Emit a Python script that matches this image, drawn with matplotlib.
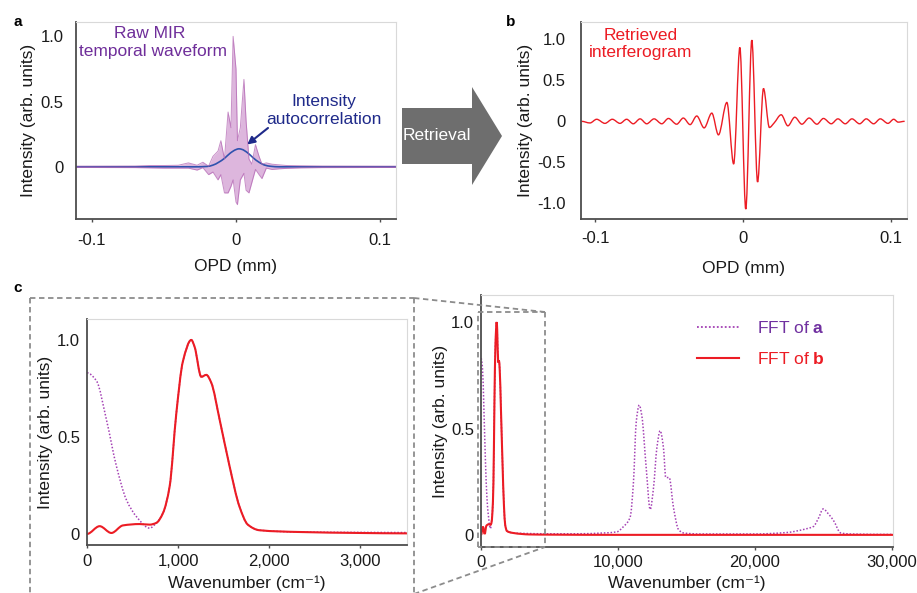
import numpy as np
import matplotlib
matplotlib.use('Agg')
import matplotlib.pyplot as plt
from matplotlib.path import Path
from matplotlib.patches import PathPatch, Polygon
from matplotlib.lines import Line2D

plt.rcParams['font.family'] = ['Liberation Sans', 'DejaVu Sans']
plt.rcParams['mathtext.fontset'] = 'custom'
plt.rcParams['mathtext.rm'] = 'Liberation Sans'
plt.rcParams['mathtext.it'] = 'Liberation Sans:italic'
plt.rcParams['mathtext.bf'] = 'Liberation Sans:bold'

# ---------------- data ----------------
# Panel a: raw MIR temporal waveform (envelope of the unresolved fast carrier)
raw_x = [-0.111, -0.070, -0.060, -0.050, -0.040, -0.033, -0.027, -0.023, -0.019, -0.016,
         -0.0125, -0.0105, -0.008, -0.0055, -0.0035, -0.002, 0.0, 0.001, 0.003, 0.0055,
         0.007, 0.009, 0.011, 0.0135, 0.016, 0.018, 0.021, 0.025, 0.030, 0.035, 0.045, 0.060, 0.111]
raw_upper = [0.005, 0.006, 0.010, 0.010, 0.012, 0.030, 0.012, 0.035, 0.005, 0.08,
             0.12, 0.20, 0.06, 0.42, 0.30, 1.00, 0.75, 0.20, 0.30, 0.67,
             0.35, 0.06, 0.02, 0.17, 0.08, 0.02, 0.03, 0.02, 0.015, 0.010, 0.008, 0.006, 0.005]
raw_lower = [-0.005, -0.006, -0.008, -0.010, -0.010, -0.010, -0.025, -0.006, -0.06, -0.04,
             -0.10, -0.06, -0.20, -0.20, -0.15, -0.10, -0.27, -0.29, -0.10, -0.05,
             -0.18, -0.20, -0.12, -0.02, -0.06, -0.09, -0.01, -0.02, -0.015, -0.012, -0.008, -0.006, -0.005]

# Panel a: intensity autocorrelation
ac_x = [-0.111, -0.028, -0.020, -0.016, -0.012, -0.008, -0.004, 0.0, 0.002, 0.004,
        0.008, 0.012, 0.016, 0.020, 0.024, 0.030, 0.111]
ac_y = [0.0, 0.0, 0.003, 0.013, 0.035, 0.065, 0.105, 0.132, 0.138, 0.134,
        0.108, 0.068, 0.035, 0.013, 0.004, 0.0, 0.0]

# Panel b: retrieved interferogram (extrema)
b_x = [-0.1095, -0.1037, -0.0992, -0.0936, -0.0886, -0.0834, -0.0789, -0.0744, -0.0698, -0.0653,
       -0.0603, -0.0551, -0.0506, -0.0450, -0.0405, -0.0359, -0.0314, -0.0264, -0.0212, -0.0167,
       -0.0110, -0.0064, -0.0022, 0.0018, 0.0059, 0.0098, 0.0138, 0.0178, 0.0210, 0.0258,
       0.0303, 0.0350, 0.0398, 0.0447, 0.0500, 0.0544, 0.0597, 0.0642, 0.0692, 0.0737,
       0.0789, 0.0834, 0.0884, 0.0929, 0.0981, 0.1020, 0.1050, 0.1094]
b_y = [0.0, -0.02, 0.025, -0.025, 0.025, -0.025, 0.025, -0.03, 0.03, -0.03,
       0.03, -0.03, 0.035, -0.035, 0.04, -0.04, 0.065, -0.08, 0.10, -0.165,
       0.23, -0.52, 0.90, -1.07, 0.99, -0.74, 0.40, -0.075, -0.02, 0.08,
       -0.055, 0.05, -0.035, 0.04, -0.035, 0.035, -0.03, 0.03, -0.03, 0.03,
       -0.03, 0.03, -0.03, 0.03, -0.025, 0.025, -0.01, 0.0]

# Panel c: spectra
wn_b = [0, 139, 268, 395, 578, 688, 762, 835, 908, 981, 1054, 1146, 1182, 1256, 1311, 1365,
        1457, 1566, 1676, 1767, 1896, 2335, 3000, 3506, 5000, 10000, 20000, 30100]
fft_b = [0.0, 0.04, 0.005, 0.044, 0.051, 0.048, 0.057, 0.108, 0.245, 0.62, 0.89, 1.0, 0.965, 0.81, 0.82, 0.78,
         0.59, 0.35, 0.14, 0.048, 0.019, 0.01, 0.005, 0.003, 0.002, 0.001, 0.001, 0.001]

wn_a = [0, 103, 213, 323, 432, 542, 688, 762, 835, 908, 981, 1054, 1146, 1182, 1256, 1311, 1365,
        1457, 1566, 1676, 1767, 1896, 2335, 3000, 5000, 7000, 9000, 9927, 10410, 10900,
        11140, 11340, 11560, 11750, 12070, 12360, 12600, 12850, 13090, 13330, 13500, 13750,
        14060, 14430, 14790, 16000, 20000, 22340, 23800, 24280, 24640, 25010, 25370, 25740,
        26280, 27000, 30100]
fft_a = [0.83, 0.79, 0.59, 0.35, 0.177, 0.09, 0.03, 0.057, 0.108, 0.245, 0.62, 0.89, 1.0, 0.965, 0.81, 0.82, 0.78,
         0.59, 0.35, 0.14, 0.048, 0.019, 0.01, 0.008, 0.006, 0.006, 0.01, 0.015, 0.04, 0.085,
         0.25, 0.53, 0.61, 0.56, 0.315, 0.12, 0.22, 0.41, 0.49, 0.41, 0.27, 0.27,
         0.13, 0.026, 0.01, 0.005, 0.005, 0.012, 0.03, 0.04, 0.077, 0.123, 0.10, 0.07,
         0.01, 0.005, 0.003]

opd_ticks = [-0.1, 0, 0.1]
opd_ticklabels = ['-0.1', '0', '0.1']
wn_ticks_left = [0, 1000, 2000, 3000]
wn_ticklabels_left = ['0', '1,000', '2,000', '3,000']
wn_ticks_right = [0, 10000, 20000, 30000]
wn_ticklabels_right = ['0', '10,000', '20,000', '30,000']

# ---------------- helpers ----------------
W, H = 917, 593


def smooth_path(x, y):
    x = np.asarray(x, float)
    y = np.asarray(y, float)
    h = np.diff(x)
    d = np.diff(y) / h
    m = np.zeros_like(y)
    for i in range(1, len(x) - 1):
        if d[i - 1] * d[i] > 0:
            w1 = 2 * h[i] + h[i - 1]
            w2 = h[i] + 2 * h[i - 1]
            m[i] = (w1 + w2) / (w1 / d[i - 1] + w2 / d[i])
    verts = [(x[0], y[0])]
    codes = [Path.MOVETO]
    for i in range(len(x) - 1):
        verts += [(x[i] + h[i] / 3, y[i] + m[i] * h[i] / 3),
                  (x[i + 1] - h[i] / 3, y[i + 1] - m[i + 1] * h[i] / 3),
                  (x[i + 1], y[i + 1])]
        codes += [Path.CURVE4] * 3
    return Path(verts, codes)


def add_curve(ax, x, y, **kw):
    p = PathPatch(smooth_path(x, y), fill=False, **kw)
    ax.add_patch(p)
    return p


TICK_FS = 12


def style_axes(ax, xpad, ypad):
    for s in ['left', 'bottom']:
        ax.spines[s].set_color('#4d4d4d')
        ax.spines[s].set_linewidth(1.3)
    for s in ['top', 'right']:
        ax.spines[s].set_color('#d9d9d9')
        ax.spines[s].set_linewidth(0.8)
    ax.tick_params(axis='x', length=2.5, width=1, color='#4d4d4d', pad=xpad,
                   labelsize=TICK_FS, labelcolor='#1a1a1a')
    ax.tick_params(axis='y', length=0, pad=ypad, labelsize=TICK_FS, labelcolor='#1a1a1a')


def fpt(px, py):
    return px / W, 1 - py / H


def axrect(l, t, r, b):
    return [l / W, 1 - b / H, (r - l) / W, (b - t) / H]


fig = plt.figure(figsize=(W / 100, H / 100), dpi=100)

LABEL_FS = 12.5
purple_txt = '#6f2e9a'
red = '#ec1c24'
navy = '#1f2a8a'
WN_LABEL = 'Wavenumber (cm\u207b\u00b9)'

# ---------------- panel a ----------------
axa = fig.add_axes(axrect(76, 22, 396, 219))
axa.fill_between(raw_x, raw_lower, raw_upper, color='#cc90cc', alpha=0.65, lw=0)
axa.plot(raw_x, raw_upper, color='#b060b0', lw=0.7, alpha=0.7)
axa.plot(raw_x, raw_lower, color='#b060b0', lw=0.7, alpha=0.7)
add_curve(axa, ac_x, ac_y, edgecolor='#2f52ae', lw=1.2)
axa.set_xlim(-0.111, 0.111)
axa.set_ylim(-0.40, 1.11)
axa.set_xticks(opd_ticks)
axa.set_xticklabels(opd_ticklabels)
axa.set_yticks([0, 0.5, 1.0])
axa.set_yticklabels(['0', '0.5', '1.0'])
style_axes(axa, 7.5, 9)
axa.set_xlabel('OPD (mm)', fontsize=LABEL_FS, labelpad=8, color='#1a1a1a')
axa.set_ylabel('Intensity (arb. units)', fontsize=LABEL_FS, color='#1a1a1a')
axa.yaxis.set_label_coords(-0.125, 0.5)
axa.text(0.231, 0.944, 'Raw MIR', transform=axa.transAxes, ha='center', va='center',
         fontsize=LABEL_FS, color=purple_txt)
axa.text(0.241, 0.848, 'temporal waveform', transform=axa.transAxes, ha='center', va='center',
         fontsize=LABEL_FS, color=purple_txt)
axa.text(0.775, 0.594, 'Intensity', transform=axa.transAxes, ha='center', va='center',
         fontsize=LABEL_FS, color=navy)
axa.text(0.775, 0.503, 'autocorrelation', transform=axa.transAxes, ha='center', va='center',
         fontsize=LABEL_FS, color=navy)
axa.annotate('', xy=(0.535, 0.378), xytext=(0.600, 0.462), xycoords='axes fraction',
             textcoords='axes fraction',
             arrowprops=dict(arrowstyle='-|>', color=navy, lw=1.5, mutation_scale=11,
                             shrinkA=0, shrinkB=0))

# ---------------- panel b ----------------
axb = fig.add_axes(axrect(581, 22, 907, 219))
add_curve(axb, b_x, b_y, edgecolor=red, lw=1.0)
axb.set_xlim(-0.1098, 0.111)
axb.set_ylim(-1.19, 1.21)
axb.set_xticks(opd_ticks)
axb.set_xticklabels(opd_ticklabels)
axb.set_yticks([-1.0, -0.5, 0, 0.5, 1.0])
axb.set_yticklabels(['-1.0', '-0.5', '0', '0.5', '1.0'])
style_axes(axb, 6, 11)
axb.set_xlabel('OPD (mm)', fontsize=LABEL_FS, labelpad=11, color='#1a1a1a')
axb.set_ylabel('Intensity (arb. units)', fontsize=LABEL_FS, color='#1a1a1a')
axb.yaxis.set_label_coords(-0.147, 0.5)
axb.text(0.184, 0.934, 'Retrieved', transform=axb.transAxes, ha='center', va='center',
         fontsize=LABEL_FS, color=red)
axb.text(0.184, 0.843, 'interferogram', transform=axb.transAxes, ha='center', va='center',
         fontsize=LABEL_FS, color=red)

# ---------------- panel c left ----------------
axc1 = fig.add_axes(axrect(87, 319, 407, 545))
add_curve(axc1, wn_a, fft_a, edgecolor='#a441b4', lw=1.1, linestyle=(0, (1, 1.2)))
add_curve(axc1, wn_b, fft_b, edgecolor=red, lw=1.5)
axc1.set_xlim(0, 3516)
axc1.set_ylim(-0.057, 1.108)
axc1.set_xticks(wn_ticks_left)
axc1.set_xticklabels(wn_ticklabels_left)
axc1.set_yticks([0, 0.5, 1.0])
axc1.set_yticklabels(['0', '0.5', '1.0'])
style_axes(axc1, 4, 5)
axc1.set_xlabel(WN_LABEL, fontsize=LABEL_FS, labelpad=4.5, color='#1a1a1a')
axc1.set_ylabel('Intensity (arb. units)', fontsize=LABEL_FS, color='#1a1a1a')
axc1.yaxis.set_label_coords(-0.106, 0.5)

# ---------------- panel c right ----------------
axc2 = fig.add_axes(axrect(481, 295, 893, 547))
add_curve(axc2, wn_a, fft_a, edgecolor='#a441b4', lw=1.1, linestyle=(0, (1, 1.2)))
add_curve(axc2, wn_b, fft_b, edgecolor=red, lw=1.5)
axc2.set_xlim(0, 30100)
axc2.set_ylim(-0.056, 1.127)
axc2.set_xticks(wn_ticks_right)
axc2.set_xticklabels(wn_ticklabels_right)
axc2.set_yticks([0, 0.5, 1.0])
axc2.set_yticklabels(['0', '0.5', '1.0'])
style_axes(axc2, 3, 5)
axc2.set_xlabel(WN_LABEL, fontsize=LABEL_FS, labelpad=4.5, color='#1a1a1a')
axc2.set_ylabel('Intensity (arb. units)', fontsize=LABEL_FS, color='#1a1a1a')
axc2.yaxis.set_label_coords(-0.08, 0.5)
handles = [Line2D([], [], color='#a441b4', lw=1.3, linestyle=(0, (1, 1.2))),
           Line2D([], [], color=red, lw=1.5)]
leg = axc2.legend(handles, ['FFT of $\\mathbf{a}$', 'FFT of $\\mathbf{b}$'],
                  loc='upper left', bbox_to_anchor=(0.524, 0.899), frameon=False,
                  fontsize=LABEL_FS, handlelength=2.45, handletextpad=1.0,
                  labelspacing=0.82, borderpad=0, borderaxespad=0)
leg.get_texts()[0].set_color('#7030a0')
leg.get_texts()[1].set_color(red)

# ---------------- figure decorations ----------------
dash = dict(color='#8c8c8c', lw=1.3, linestyle=(0, (3, 2)), transform=fig.transFigure)
segments = [((30, 298), (414, 298)), ((30, 298), (30, 600)), ((414, 298), (414, 600)),
            ((478, 312), (545, 312)), ((545, 312), (545, 547)), ((545, 547), (478, 547)),
            ((478, 547), (478, 312)), ((414, 298), (545, 312)), ((414, 594), (545, 547))]
for p0, p1 in segments:
    a0 = fpt(*p0)
    a1 = fpt(*p1)
    fig.add_artist(Line2D([a0[0], a1[0]], [a0[1], a1[1]], **dash))

arrow_px = [(402, 108), (472, 108), (472, 87), (502, 136), (472, 185), (472, 164), (402, 164)]
fig.add_artist(Polygon([fpt(*p) for p in arrow_px], closed=True, facecolor='#6e6e6e',
                       edgecolor='none', transform=fig.transFigure))
fig.text(*fpt(437, 136), 'Retrieval', color='white', fontsize=LABEL_FS, ha='center', va='center')

fig.text(*fpt(13, 22), 'a', fontsize=11, fontweight='bold', ha='left', va='center')
fig.text(*fpt(506, 22), 'b', fontsize=11, fontweight='bold', ha='left', va='center')
fig.text(*fpt(13, 288), 'c', fontsize=11, fontweight='bold', ha='left', va='center')

fig.savefig('out.png', dpi=100)
